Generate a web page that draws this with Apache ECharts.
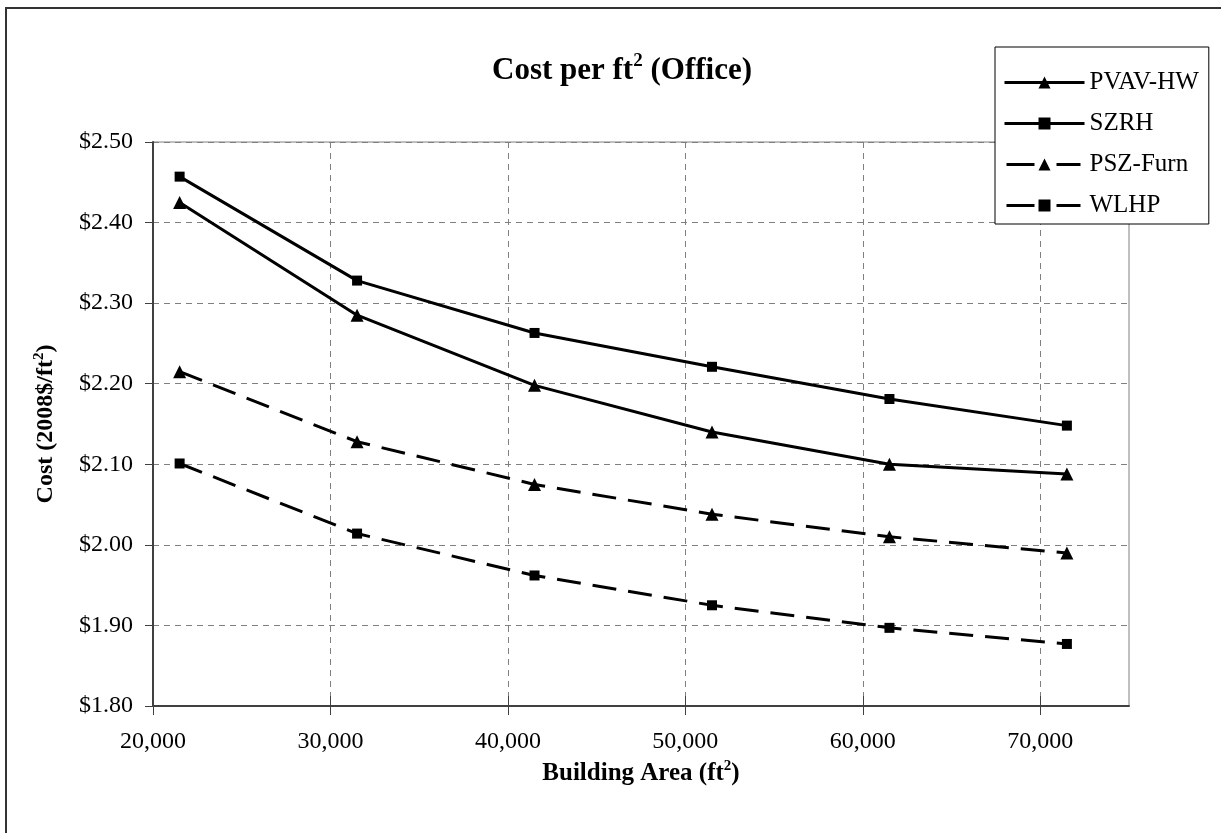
<!DOCTYPE html>
<html><head><meta charset="utf-8">
<script src="https://cdn.jsdelivr.net/npm/echarts@6/dist/echarts.min.js"></script>
<style>html,body{margin:0;padding:0;background:#fff}#c{width:1221px;height:833px}</style>
</head><body><div id="c"></div>
<script>
// Building area (ft^2)
const areas = [21500, 31500, 41500, 51500, 61500, 71500];
// Cost per ft^2 (2008$)
const pvavHW = [2.425, 2.285, 2.198, 2.140, 2.100, 2.088];
const szrh = [2.457, 2.328, 2.263, 2.221, 2.181, 2.148];
const pszFurn = [2.215, 2.128, 2.075, 2.038, 2.010, 1.990];
const wlhp = [2.101, 2.014, 1.962, 1.925, 1.897, 1.877];
const seriesNames = ['PVAV-HW', 'SZRH', 'PSZ-Furn', 'WLHP'];
const xTickValues = [20000, 30000, 40000, 50000, 60000, 70000];

const FONT = "'Liberation Serif','Times New Roman',serif";
const chart = echarts.init(document.getElementById('c'), null, {renderer: 'canvas'});

function mk(name, vals, symbol, dashed) {
  return {
    name: name, type: 'line', xAxisIndex: 0, yAxisIndex: 0,
    data: areas.map((x, i) => [x, vals[i]]),
    symbol: symbol, symbolSize: symbol === 'rect' ? 10 : 13,
    showAllSymbol: true,
    lineStyle: {color: '#000', width: 3, type: dashed ? [24, 12] : 'solid'},
    itemStyle: {color: '#000'},
    emphasis: {disabled: true},
    z: 3
  };
}

const legendDash = [0, 2, 28, 22, 24, 20];

const option = {
  animation: false,
  backgroundColor: '#fff',
  title: {
    text: '{a|Cost per ft}{s|2}{a| (Office)}',
    left: 617, top: 47, textAlign: 'center',
    textStyle: {
      rich: {
        a: {fontFamily: FONT, fontSize: 31, fontWeight: 'bold', color: '#000', lineHeight: 37},
        s: {fontFamily: FONT, fontSize: 19, fontWeight: 'bold', color: '#000', verticalAlign: 'top', lineHeight: 20}
      }
    }
  },
  legend: {
    orient: 'vertical', left: 995, top: 47,
    itemWidth: 80, itemHeight: 15, itemGap: 16,
    padding: [23, 10, 6, 8],
    borderColor: '#000', borderWidth: 1, backgroundColor: '#fff',
    lineStyle: {width: 3},
    textStyle: {fontFamily: FONT, fontSize: 25, lineHeight: 25, color: '#000'},
    data: [
      {name: seriesNames[0]},
      {name: seriesNames[1]},
      {name: seriesNames[2], lineStyle: {width: 3, type: legendDash}},
      {name: seriesNames[3], lineStyle: {width: 3, type: legendDash}}
    ],
    z: 10
  },
  graphic: [{
    type: 'rect', shape: {x: 6, y: 8, width: 1240, height: 850},
    style: {fill: 'none', stroke: '#333', lineWidth: 2}, z: 100, silent: true
  }],
  grid: {
    left: 153, right: 92, top: 142, bottom: 127,
    show: true, borderColor: '#808080', borderWidth: 1, backgroundColor: '#fff'
  },
  xAxis: [{
    type: 'value', min: 20000, max: 75000, interval: 10000,
    axisLine: {show: true, lineStyle: {color: '#404040', width: 2}},
    axisTick: {show: true, inside: false, length: 9, customValues: xTickValues, lineStyle: {color: '#404040', width: 1}},
    axisLabel: {
      customValues: xTickValues, margin: 24,
      fontFamily: FONT, fontSize: 24, color: '#000',
      formatter: v => v.toLocaleString('en-US')
    },
    splitLine: {show: true, lineStyle: {color: '#808080', width: 1, type: [6, 5]}},
    name: '{a|Building Area (ft}{s|2}{a|)}',
    nameLocation: 'middle', nameGap: 52,
    nameTextStyle: {
      rich: {
        a: {fontFamily: FONT, fontSize: 25, fontWeight: 'bold', color: '#000', lineHeight: 30},
        s: {fontFamily: FONT, fontSize: 15, fontWeight: 'bold', color: '#000', verticalAlign: 'top', lineHeight: 16}
      }
    }
  }, {
    type: 'value', min: 20000, max: 75000, interval: 10000, position: 'bottom',
    axisLine: {show: false},
    axisTick: {show: true, inside: true, length: 10, customValues: xTickValues, lineStyle: {color: '#404040', width: 1}},
    axisLabel: {show: false},
    splitLine: {show: false}
  }],
  yAxis: {
    type: 'value', min: 1.8, max: 2.5, interval: 0.1,
    axisLine: {show: true, lineStyle: {color: '#404040', width: 2}},
    axisTick: {show: true, inside: false, length: 8, lineStyle: {color: '#404040', width: 1}},
    axisLabel: {
      margin: 20, fontFamily: FONT, fontSize: 24, color: '#000',
      formatter: v => '$' + v.toFixed(2)
    },
    splitLine: {show: true, lineStyle: {color: '#808080', width: 1, type: [6, 5]}},
    name: '{a|Cost (2008$/ft}{s|2}{a|)}',
    nameLocation: 'middle', nameGap: 93, nameRotate: 90,
    nameTextStyle: {
      rich: {
        a: {fontFamily: FONT, fontSize: 24, fontWeight: 'bold', color: '#000', lineHeight: 28},
        s: {fontFamily: FONT, fontSize: 15, fontWeight: 'bold', color: '#000', verticalAlign: 'top', lineHeight: 16}
      }
    }
  },
  series: [
    mk(seriesNames[0], pvavHW, 'triangle', false),
    mk(seriesNames[1], szrh, 'rect', false),
    mk(seriesNames[2], pszFurn, 'triangle', true),
    mk(seriesNames[3], wlhp, 'rect', true)
  ]
};
chart.setOption(option);
</script>
</body></html>
